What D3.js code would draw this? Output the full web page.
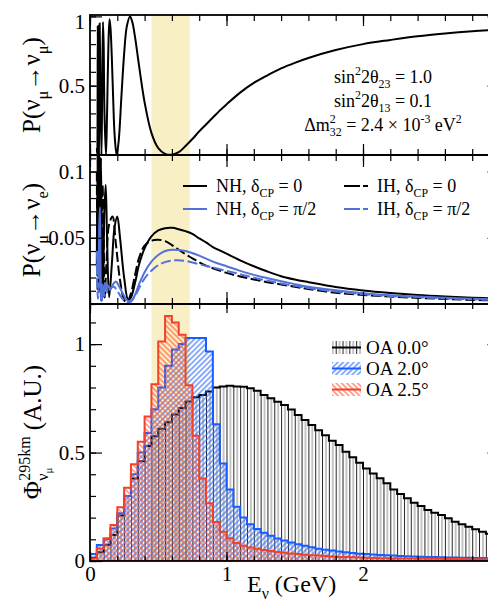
<!DOCTYPE html>
<html>
<head>
<meta charset="utf-8">
<script src="https://cdn.jsdelivr.net/npm/d3@7"></script>
<style>
  body { margin: 0; background: #fff; }
  svg { display: block; }
</style>
</head>
<body>
<svg id="chart" width="488" height="605"></svg>
<script>
// ---- data ----
const bandRange = [0.45, 0.73]; // GeV, shaded region

// P(numu -> numu), [E (GeV), P]
const pMuMu = [[0.05,0.05],[0.053,0.0],[0.057,0.93],[0.061,0.3],[0.065,0.0],[0.068,0.5],[0.071,0.95],
  [0.076,0.5],[0.084,0.0],[0.089,0.45],[0.095,0.96],[0.1,0.8],[0.106,0.3],[0.117,0.0],[0.125,0.3],
  [0.135,0.8],[0.143,0.98],[0.15,0.92],[0.16,0.7],[0.17,0.4],[0.18,0.15],[0.195,0.0],[0.21,0.1],
  [0.23,0.42],[0.25,0.73],[0.27,0.93],[0.293,1.0],[0.31,0.96],[0.33,0.85],[0.36,0.64],[0.4,0.38],
  [0.45,0.16],[0.5,0.05],[0.55,0.008],[0.6,0.002],[0.65,0.02],[0.7,0.065],[0.75,0.115],[0.8,0.17],
  [0.85,0.22],[0.9,0.27],[0.95,0.32],[1.0,0.365],[1.1,0.45],[1.2,0.52],[1.3,0.575],[1.4,0.625],
  [1.5,0.665],[1.6,0.70],[1.8,0.757],[2.0,0.80],[2.2,0.83],[2.4,0.857],[2.6,0.877],[2.8,0.893],[3.0,0.905]];

// P(numu -> nue) for the four hypotheses
const nhCp0 = [[0.05,0.03],[0.055,0.115],[0.06,0.02],[0.066,0.115],[0.072,0.01],[0.08,0.11],[0.088,0.03],
  [0.095,0.005],[0.105,0.07],[0.115,0.09],[0.125,0.05],[0.14,0.005],[0.16,0.03],[0.18,0.058],[0.2,0.066],
  [0.22,0.05],[0.25,0.02],[0.28,0.003],[0.3,0.005],[0.33,0.016],[0.36,0.03],[0.4,0.042],[0.45,0.051],
  [0.5,0.0555],[0.55,0.0572],[0.6,0.0575],[0.65,0.0565],[0.7,0.055],[0.75,0.053],[0.8,0.0495],
  [0.85,0.0465],[0.9,0.043],[0.95,0.0405],[1.0,0.038],[1.1,0.033],[1.2,0.0285],[1.3,0.0245],[1.4,0.021],
  [1.5,0.0185],[1.6,0.0165],[1.8,0.0128],[2.0,0.0102],[2.2,0.0083],[2.4,0.0068],[2.6,0.0057],[2.8,0.0048],[3.0,0.004]];
const ihCp0 = [[0.05,0.1],[0.056,0.01],[0.062,0.11],[0.068,0.01],[0.075,0.1],[0.083,0.005],[0.092,0.09],
  [0.1,0.05],[0.108,0.005],[0.12,0.03],[0.14,0.06],[0.165,0.066],[0.19,0.045],[0.22,0.018],[0.25,0.003],
  [0.27,0.001],[0.3,0.008],[0.33,0.022],[0.36,0.035],[0.4,0.044],[0.45,0.0478],[0.5,0.0485],[0.55,0.0475],
  [0.6,0.0445],[0.65,0.041],[0.7,0.0375],[0.75,0.0345],[0.8,0.0315],[0.85,0.029],[0.9,0.027],[1.0,0.0235],
  [1.1,0.0208],[1.2,0.0185],[1.3,0.0165],[1.4,0.0148],[1.5,0.013],[1.6,0.0113],[1.8,0.0085],[2.0,0.0068],
  [2.2,0.0056],[2.4,0.0046],[2.6,0.0038],[2.8,0.0031],[3.0,0.0025]];
const nhCpHalfPi = [[0.05,0.04],[0.06,0.02],[0.068,0.06],[0.073,0.073],[0.078,0.02],[0.082,0.002],[0.09,0.015],
  [0.1,0.008],[0.11,0.016],[0.12,0.01],[0.135,0.014],[0.15,0.011],[0.17,0.015],[0.19,0.017],[0.21,0.014],
  [0.24,0.008],[0.27,0.003],[0.3,0.002],[0.33,0.007],[0.36,0.015],[0.4,0.024],[0.45,0.032],[0.5,0.037],
  [0.55,0.04],[0.6,0.041],[0.65,0.0408],[0.7,0.04],[0.8,0.0365],[0.9,0.032],[1.0,0.0285],[1.1,0.025],
  [1.2,0.022],[1.3,0.0195],[1.4,0.0172],[1.5,0.015],[1.6,0.013],[1.8,0.0103],[2.0,0.0082],[2.2,0.0066],
  [2.4,0.0056],[2.6,0.0047],[2.8,0.004],[3.0,0.0033]];
const ihCpHalfPi = [[0.05,0.03],[0.058,0.004],[0.066,0.02],[0.072,0.05],[0.077,0.01],[0.085,0.001],[0.095,0.012],
  [0.105,0.006],[0.118,0.013],[0.13,0.008],[0.15,0.012],[0.175,0.013],[0.2,0.01],[0.23,0.005],[0.27,0.001],
  [0.3,0.002],[0.34,0.008],[0.38,0.016],[0.42,0.022],[0.47,0.027],[0.52,0.0305],[0.58,0.0325],[0.64,0.033],
  [0.7,0.0325],[0.8,0.030],[0.9,0.0275],[1.0,0.025],[1.1,0.0225],[1.2,0.0198],[1.3,0.0175],[1.4,0.0155],
  [1.5,0.0137],[1.6,0.012],[1.8,0.0094],[2.0,0.0074],[2.2,0.006],[2.4,0.0051],[2.6,0.0042],[2.8,0.0035],[3.0,0.0029]];

// flux histograms, 0.05 GeV bins starting at 0
const binWidth = 0.05;
const oa00 = [0.015,0.04,0.075,0.12,0.21,0.30,0.38,0.46,0.53,0.575,0.61,0.64,0.675,0.705,0.735,0.755,
  0.765,0.782,0.80,0.805,0.808,0.805,0.803,0.796,0.785,0.765,0.750,0.734,0.719,0.699,0.673,0.650,0.627,
  0.603,0.580,0.554,0.535,0.504,0.478,0.453,0.427,0.404,0.381,0.358,0.330,0.309,0.289,0.269,0.254,0.235,
  0.223,0.212,0.197,0.181,0.170,0.158,0.146,0.135,0.126,0.118];
const oa20 = [0.032,0.074,0.10,0.15,0.22,0.30,0.40,0.50,0.59,0.70,0.80,0.90,0.975,1.00,1.028,1.028,1.028,
  0.966,0.63,0.45,0.33,0.25,0.20,0.17,0.148,0.13,0.116,0.104,0.094,0.085,0.077,0.07,0.063,0.057,0.052,
  0.048,0.044,0.04,0.037,0.034,0.032,0.03,0.028,0.026,0.025,0.023,0.022,0.021,0.02,0.019,0.018,0.017,
  0.016,0.016,0.015,0.015,0.014,0.014,0.013,0.013];
const oa25 = [0.012,0.058,0.105,0.166,0.248,0.338,0.446,0.55,0.666,0.815,1.012,1.13,1.10,1.043,0.81,0.577,
  0.38,0.266,0.18,0.135,0.105,0.083,0.07,0.062,0.056,0.051,0.046,0.042,0.038,0.035,0.032,0.029,0.027,
  0.025,0.023,0.021,0.019,0.018,0.017,0.016,0.015,0.014,0.013,0.013,0.012,0.012,0.011,0.011,0.011,0.010,
  0.010,0.010,0.009,0.009,0.009,0.008,0.008,0.008,0.008,0.007];

const xMajorTicks = [0, 1, 2, 3];
const topMajor = [0.5, 1];
const midMajor = [0.05, 0.1];
const botMajor = [0, 0.5, 1];

// ---- setup ----
const font = '"Liberation Serif","Times New Roman",serif';
const blueLine = '#5272d9';
const blueHist = '#1a5cff';
const redHist = '#f2402a';

const svg = d3.select('#chart');
const x = d3.scaleLinear().domain([0, 3]).range([90, 499.5]);
const yTop = d3.scaleLinear().domain([0, 1.01]).range([155, 15]);
const yMid = d3.scaleLinear().domain([0, 0.1125]).range([304, 155]);
const yBot = d3.scaleLinear().domain([0, 1.185]).range([561, 304]);

const defs = svg.append('defs');
[['clipTop', yTop], ['clipMid', yMid], ['clipBot', yBot]].forEach(([id, y]) => {
  defs.append('clipPath').attr('id', id).append('rect')
    .attr('x', x.range()[0]).attr('y', y.range()[1])
    .attr('width', x.range()[1] - x.range()[0]).attr('height', y.range()[0] - y.range()[1]);
});

const binPx = x(binWidth) - x(0);
const pv = defs.append('pattern').attr('id', 'hatchV').attr('patternUnits', 'userSpaceOnUse')
  .attr('x', 90).attr('width', binPx).attr('height', 10);
pv.append('line').attr('x1', 0.5).attr('x2', 0.5).attr('y1', 0).attr('y2', 10).attr('stroke', '#222').attr('stroke-width', 1);
pv.append('line').attr('x1', binPx / 2 + 0.5).attr('x2', binPx / 2 + 0.5).attr('y1', 0).attr('y2', 10).attr('stroke', '#8a8a8a').attr('stroke-width', 1);

function diagPattern(id, color, angle) {
  const p = defs.append('pattern').attr('id', id).attr('patternUnits', 'userSpaceOnUse')
    .attr('width', 3.8).attr('height', 10).attr('patternTransform', `rotate(${angle})`);
  p.append('line').attr('x1', 1).attr('x2', 1).attr('y1', 0).attr('y2', 10)
    .attr('stroke', color).attr('stroke-width', 1.1);
}
diagPattern('hatchBlue', '#2b6bff', 45);
diagPattern('hatchRed', '#ff5a3a', -45);

// shaded band across all panels
svg.append('rect')
  .attr('x', x(bandRange[0])).attr('width', x(bandRange[1]) - x(bandRange[0]))
  .attr('y', yTop.range()[1]).attr('height', yBot.range()[0] - yTop.range()[1])
  .attr('fill', '#f9efc4');

// ---- top panel ----
const curve = d3.curveCatmullRom.alpha(0.5);
svg.append('path').datum(pMuMu)
  .attr('clip-path', 'url(#clipTop)')
  .attr('fill', 'none').attr('stroke', '#000').attr('stroke-width', 2)
  .attr('d', d3.line().x(d => x(d[0])).y(d => yTop(d[1])).curve(curve));

// ---- middle panel ----
const midLine = d3.line().x(d => x(d[0])).y(d => yMid(d[1])).curve(curve);
const midSeries = [
  { data: nhCp0, color: '#000', dash: null },
  { data: ihCp0, color: '#000', dash: '10,3.5' },
  { data: nhCpHalfPi, color: blueLine, dash: null },
  { data: ihCpHalfPi, color: blueLine, dash: '10,3.5' }
];
midSeries.forEach(s => {
  svg.append('path').datum(s.data)
    .attr('clip-path', 'url(#clipMid)')
    .attr('fill', 'none').attr('stroke', s.color).attr('stroke-width', 2)
    .attr('stroke-dasharray', s.dash)
    .attr('d', midLine);
});

// ---- bottom panel histograms ----
function stepData(vals) {
  const d = vals.map((v, i) => [i * binWidth, v]);
  d.push([vals.length * binWidth, vals[vals.length - 1]]);
  return d;
}
const histArea = d3.area().curve(d3.curveStepAfter)
  .x(d => x(d[0])).y0(yBot(0)).y1(d => yBot(d[1]));
[
  { vals: oa00, fill: 'url(#hatchV)', stroke: '#000' },
  { vals: oa20, fill: 'url(#hatchBlue)', stroke: blueHist },
  { vals: oa25, fill: 'url(#hatchRed)', stroke: redHist }
].forEach(h => {
  svg.append('path').datum(stepData(h.vals))
    .attr('clip-path', 'url(#clipBot)')
    .attr('fill', h.fill).attr('stroke', h.stroke).attr('stroke-width', 2)
    .attr('d', histArea);
});

// ---- axes / frames ----
function panelAxes(y, yMajor, yMinorN, xLen, labelX, yFmt) {
  const [yb, yt] = y.range();
  const [xl, xr] = x.range();
  const mk = (axis, tx, ty, size, vals, fmt) => {
    axis.tickValues(vals).tickSizeInner(-size).tickSizeOuter(0).tickPadding(5)
      .tickFormat(fmt || (() => ''));
    const g = svg.append('g').attr('transform', `translate(${tx},${ty})`).call(axis);
    g.select('.domain').remove();
    g.selectAll('line').attr('stroke', '#000').attr('stroke-width', 1.2);
    g.selectAll('text').attr('font-family', font).attr('font-size', 21).attr('fill', '#000');
    return g;
  };
  const xMinor = x.ticks(15);
  const yMinor = y.ticks(yMinorN);
  mk(d3.axisBottom(x), 0, yb, xLen[1], xMinor);
  mk(d3.axisBottom(x), 0, yb, xLen[0], xMajorTicks, labelX ? (d => d === 3 ? '' : d) : null);
  mk(d3.axisTop(x), 0, yt, xLen[1], xMinor);
  mk(d3.axisTop(x), 0, yt, xLen[0], xMajorTicks);
  mk(d3.axisLeft(y), xl, 0, 6, yMinor);
  const gl = mk(d3.axisLeft(y), xl, 0, 12, yMajor, yFmt);
  mk(d3.axisRight(y), xr, 0, 6, yMinor);
  mk(d3.axisRight(y), xr, 0, 12, yMajor);
  svg.append('rect').attr('x', xl).attr('y', yt).attr('width', xr - xl).attr('height', yb - yt)
    .attr('fill', 'none').attr('stroke', '#000').attr('stroke-width', 1.8);
  return gl;
}
const glTop = panelAxes(yTop, topMajor, 10, [11, 6], false, d => d);
glTop.selectAll('text').filter(d => d === 1).attr('y', 5);
panelAxes(yMid, midMajor, 11, [12, 6], false, d => d);
panelAxes(yBot, botMajor, 12, [9, 5], true, d => d);

// ---- text helpers ----
function rich(sel, parts, size) {
  let cur = 0;
  parts.forEach(p => {
    const off = p.sub ? size * 0.3 : p.sup ? -size * 0.42 : 0;
    const ts = sel.append('tspan').text(p.t).attr('dy', off - cur);
    if (p.sub || p.sup) ts.attr('font-size', size * 0.66);
    if (p.dx) ts.attr('dx', p.dx);
    cur = off;
  });
  return sel;
}
function label(tx, ty, size, anchor, rot) {
  const g = svg.append('g').attr('transform', `translate(${tx},${ty})` + (rot ? ` rotate(${rot})` : ''));
  return g.append('text').attr('font-family', font).attr('font-size', size)
    .attr('text-anchor', anchor).attr('fill', '#000');
}

// y titles
rich(label(40, 85, 25, 'middle', -90), [{ t: 'P(ν' }, { t: 'μ', sub: true }, { t: '→ν' }, { t: 'μ', sub: true }, { t: ')' }], 25);
rich(label(40, 230, 25, 'middle', -90), [{ t: 'P(ν' }, { t: 'μ', sub: true }, { t: '→ν' }, { t: 'e', sub: true }, { t: ')' }], 25);

// flux title: Phi with stacked super/subscript
{
  const g = svg.append('g').attr('transform', 'translate(41,432) rotate(-90)');
  const t = g.append('text').attr('font-family', font).attr('font-size', 25).attr('fill', '#000');
  t.append('tspan').text('Φ');
  const sup = t.append('tspan').text('295km').attr('font-size', 16).attr('dy', -11);
  const supW = sup.node().getComputedTextLength();
  const s1 = t.append('tspan').text('ν').attr('font-size', 16).attr('dx', -supW).attr('dy', 18);
  const s2 = t.append('tspan').text('μ').attr('font-size', 11).attr('dy', 4);
  const subW = s1.node().getComputedTextLength() + s2.node().getComputedTextLength();
  t.append('tspan').text(' (A.U.)').attr('dx', supW - subW).attr('dy', -11);
  const bb = t.node().getBBox();
  t.attr('x', -bb.width / 2);
}

// x title
rich(label(247, 592, 24, 'start'), [{ t: 'E' }, { t: 'ν', sub: true }, { t: ' (GeV)' }], 24);

// oscillation parameters
{
  const t1 = label(383, 83, 18, 'middle');
  rich(t1, [{ t: 'sin' }, { t: '2', sup: true }, { t: '2θ' }, { t: '23', sub: true }, { t: ' = 1.0' }], 18);
  const t2 = label(383, 107, 18, 'middle');
  rich(t2, [{ t: 'sin' }, { t: '2', sup: true }, { t: '2θ' }, { t: '13', sub: true }, { t: ' = 0.1' }], 18);
  const t3 = label(383, 131, 18, 'middle');
  rich(t3, [{ t: 'Δm' }, { t: '2', sup: true }, { t: '32', sub: true, dx: -6 }, { t: ' = 2.4 × 10' },
    { t: '-3', sup: true }, { t: ' eV' }, { t: '2', sup: true }], 18);
}

// middle legend
const midLegend = [
  { lx: 183, ly: 186, color: '#000', dash: null, text: 'NH, δ', val: ' = 0' },
  { lx: 183, ly: 209, color: blueLine, dash: null, text: 'NH, δ', val: ' = π/2' },
  { lx: 344, ly: 186, color: '#000', dash: '16,3', text: 'IH, δ', val: ' = 0' },
  { lx: 344, ly: 209, color: blueLine, dash: '16,3', text: 'IH, δ', val: ' = π/2' }
];
midLegend.forEach(e => {
  svg.append('line').attr('x1', e.lx).attr('x2', e.lx + 24).attr('y1', e.ly).attr('y2', e.ly)
    .attr('stroke', e.color).attr('stroke-width', 2).attr('stroke-dasharray', e.dash);
  rich(label(e.lx + 33, e.ly + 6, 18, 'start'), [{ t: e.text }, { t: 'CP', sub: true }, { t: e.val }], 18);
});

// bottom legend
const botLegend = [
  { y: 347.5, fill: 'url(#hatchV)', color: '#000', text: 'OA 0.0°' },
  { y: 368.5, fill: 'url(#hatchBlue)', color: blueHist, text: 'OA 2.0°' },
  { y: 389.5, fill: 'url(#hatchRed)', color: redHist, text: 'OA 2.5°' }
];
botLegend.forEach(e => {
  svg.append('rect').attr('x', 332).attr('y', e.y - 6.5).attr('width', 29).attr('height', 13).attr('fill', e.fill);
  svg.append('line').attr('x1', 332).attr('x2', 361).attr('y1', e.y).attr('y2', e.y)
    .attr('stroke', e.color).attr('stroke-width', 2);
  label(366, e.y + 6.5, 19, 'start').text(e.text);
});
</script>
</body>
</html>
